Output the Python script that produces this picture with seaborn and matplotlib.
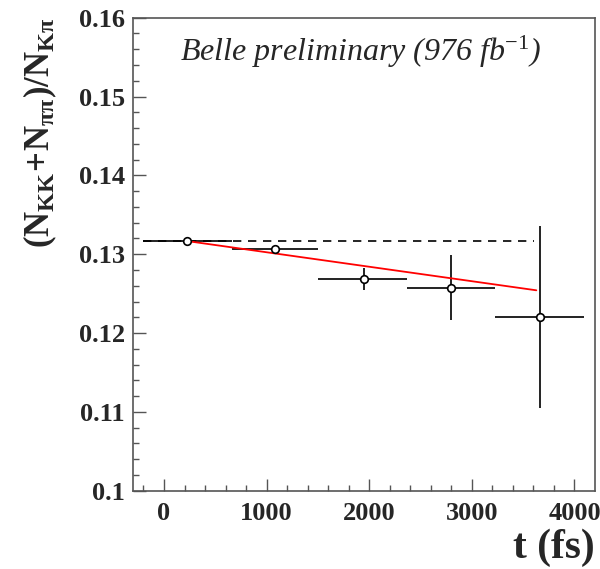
import matplotlib
matplotlib.use("Agg")
import matplotlib.pyplot as plt
import seaborn as sns
import numpy as np
import pandas as pd

# ---- data ----
t_center = [224, 1084, 1947, 2800, 3661]
ratio = [0.13167, 0.1307, 0.12685, 0.12567, 0.12203]
t_lo = [-208, 662, 1505, 2372, 3226]
t_hi = [662, 1505, 2372, 3226, 4092]
ratio_lo = [0.13137, 0.1304, 0.12542, 0.12165, 0.11046]
ratio_hi = [0.13197, 0.1310, 0.1283, 0.1299, 0.13357]

fit_t = [224, 3628]
fit_ratio = [0.13167, 0.12542]

const_t = [-208, 3606]
const_ratio = [0.13167, 0.13167]

xticks = [0, 1000, 2000, 3000, 4000]
yticks = [0.10, 0.11, 0.12, 0.13, 0.14, 0.15, 0.16]
ytick_labels = ["0.1", "0.11", "0.12", "0.13", "0.14", "0.15", "0.16"]

sns.set_theme(style="white")
plt.rcParams['font.family'] = ['Liberation Serif', 'DejaVu Serif']
plt.rcParams['mathtext.fontset'] = 'custom'
plt.rcParams['mathtext.rm'] = 'Liberation Serif'
plt.rcParams['mathtext.it'] = 'Liberation Serif:italic'
plt.rcParams['mathtext.bf'] = 'Liberation Serif:bold'

fig = plt.figure(figsize=(6.0, 5.69), dpi=100)
ax = fig.add_axes([0.222, 0.1376, 0.9917 - 0.222, 0.9689 - 0.1376])

df = pd.DataFrame({"t": t_center, "r": ratio})
xerr = np.array([np.array(t_center) - np.array(t_lo), np.array(t_hi) - np.array(t_center)])
yerr = np.array([np.array(ratio) - np.array(ratio_lo), np.array(ratio_hi) - np.array(ratio)])

ax.errorbar(t_center, ratio, xerr=xerr, yerr=yerr, fmt='none', ecolor='#222222',
            elinewidth=1.4, capsize=0, zorder=2)

sns.lineplot(x=const_t, y=const_ratio, ax=ax, color='black', lw=1.2,
             linestyle=(0, (5, 4)), zorder=3)
sns.lineplot(x=fit_t, y=fit_ratio, ax=ax, color='red', lw=1.3, zorder=4)
sns.scatterplot(data=df, x="t", y="r", ax=ax, marker='o', s=30, facecolor='white',
                edgecolor='black', linewidth=1.2, zorder=5)

ax.set_xlim(-300, 4200)
ax.set_ylim(0.1, 0.16)
ax.set_xticks(xticks)
ax.set_xticklabels([str(v) for v in xticks], fontweight='bold', fontsize=19)
ax.set_yticks(yticks)
ax.set_yticklabels(ytick_labels, fontweight='bold', fontsize=19)
ax.set_xticks(np.arange(-200, 4200, 200), minor=True)
ax.set_yticks(np.arange(0.1, 0.1601, 0.002), minor=True)
ax.tick_params(axis='both', which='major', direction='in', length=9, width=1,
               color='#555555', top=False, right=False, bottom=True, left=True)
ax.tick_params(axis='both', which='minor', direction='in', length=4.5, width=1,
               color='#555555', top=False, right=False, bottom=True, left=True)
ax.tick_params(axis='x', which='major', pad=8)
ax.tick_params(axis='y', which='major', pad=6)
for s in ax.spines.values():
    s.set_color('#555555')
    s.set_linewidth(1.2)

ax.set_xlabel('')
ax.set_ylabel('')
fig.text(0.992, 0.037, 't (fs)', ha='right', va='center', fontsize=30, fontweight='bold')
fig.text(0.068, 0.969, r'$\mathbf{(N_{KK}\!+\!N_{\pi\pi})/N_{K\pi}}$', rotation=90,
         ha='center', va='top', fontsize=25)

ax.text(0.491, 0.927, r'Belle preliminary (976 fb$^{-1}$)', transform=ax.transAxes,
        ha='center', va='center', fontsize=23, fontstyle='italic')

fig.savefig('out.png', dpi=100)
